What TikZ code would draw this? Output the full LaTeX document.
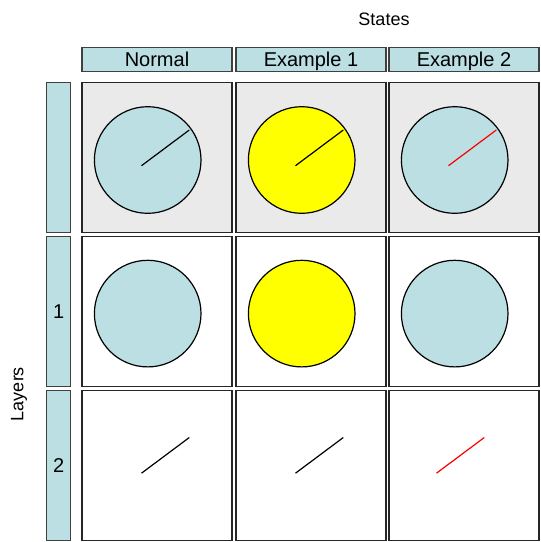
\documentclass[tikz,border=0pt]{standalone}
\usepackage{fontspec}
\setmainfont{Liberation Sans}
\usetikzlibrary{calc}
\definecolor{paleteal}{HTML}{BBDFE2}
\definecolor{panelgray}{HTML}{EAEAEA}
\definecolor{dialyellow}{HTML}{FFFF00}
\tikzset{
  panel/.style={draw=black!85,line width=1.3pt,minimum width=150pt,minimum height=150pt,inner sep=0pt},
  header/.style={draw=black!75,line width=1.3pt,fill=paleteal,minimum width=150pt,minimum height=24pt,inner sep=0pt,text height=14.4pt,text depth=0pt,font=\fontsize{20}{24}\selectfont},
  layerbar/.style={draw=black!75,line width=1.3pt,fill=paleteal,minimum width=24pt,minimum height=150pt,inner sep=0pt,font=\fontsize{20}{24}\selectfont},
  dial/.style={draw=black,line width=1.2pt},
  hand/.style={line width=1.2pt},
}

\begin{document}
\begin{tikzpicture}[x=1pt,y=-1pt]
  \useasboundingbox (0,0) rectangle (541,542);
  % axis titles
  \node[font=\fontsize{18}{22}\selectfont] (states) at (384,19) {States};
  \node[font=\fontsize{18}{22}\selectfont,rotate=90] (layers) at (19,394) {Layers};
  % column headers and layer bars
  \foreach \c/\x/\t in {1/157/Normal,2/311/Example 1,3/464/Example 2}
    {\node[header] (h\c) at (\x,59.7) {\t};}
  \foreach \r/\y/\t in {0/157.7/{},1/311.3/1,2/465.2/2}
    {\node[layerbar] (l\r) at (58.8,\y) {\t};}
  % panels
  \foreach \r/\y/\bg in {0/157.7/panelgray,1/311.3/white,2/465.2/white}
    \foreach \c/\x in {1/157,2/311,3/464}
      {\node[panel,fill=\bg] (p\r\c) at (\x,\y) {};}
  % dials
  \foreach \r in {0,1}
    \foreach \c/\col in {1/paleteal,2/dialyellow,3/paleteal}
      {\draw[dial,fill=\col] ($(p\r\c)+(-9.3,2.3)$) circle[radius=53.3];}
  \foreach \r/\c/\col/\dx in {0/1/black/0,0/2/black/0,0/3/red/0,2/1/black/0,2/2/black/0,2/3/red/-12}
    {\draw[hand,\col] ($(p\r\c)+({-15.5+\dx},8)$) -- ($(p\r\c)+({32.3+\dx},-27.7)$);}
\end{tikzpicture}
\end{document}
